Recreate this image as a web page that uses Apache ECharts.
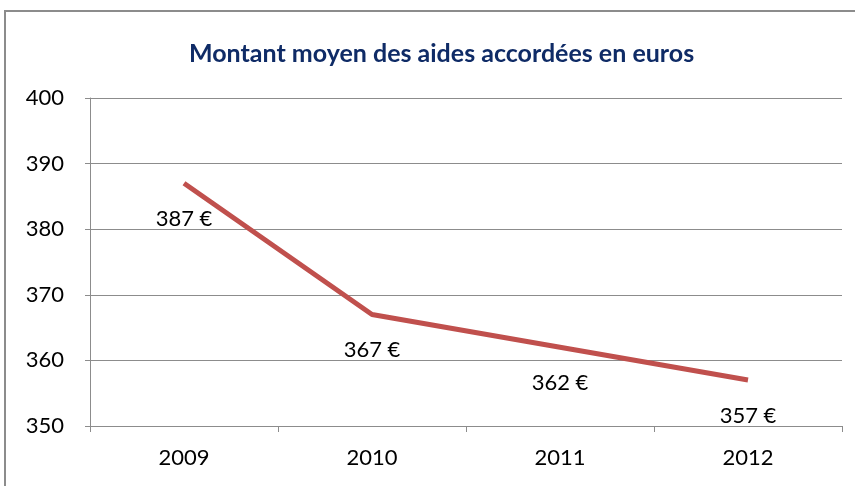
<!DOCTYPE html>
<html>
<head>
<meta charset="utf-8">
<script src="https://cdn.jsdelivr.net/npm/echarts@6/dist/echarts.min.js"></script>
<style>
  html, body { margin: 0; padding: 0; background: #fff; }
  #aidesChart { width: 855px; height: 486px; }
</style>
</head>
<body>
<div id="aidesChart"></div>
<script>
  // montant moyen par année
  var anneeList = ["2009", "2010", "2011", "2012"];
  var montantList = [387, 367, 362, 357];

  var aidesChart = echarts.init(document.getElementById("aidesChart"));
  aidesChart.setOption({
    animation: false,
    title: {
      text: "Montant moyen des aides accordées en euros",
      left: 184,
      top: 36,
      textStyle: {
        color: "#0F2B66",
        fontFamily: "Lato",
        fontWeight: "bold",
        fontSize: 25
      }
    },
    graphic: [{
      type: "rect",
      shape: { x: 5, y: 11, width: 900, height: 520 },
      style: { fill: "none", stroke: "#8c8c8c", lineWidth: 2 },
      silent: true
    }],
    grid: { left: 90, right: 13, top: 98, bottom: 60 },
    xAxis: {
      type: "category",
      data: anneeList,
      boundaryGap: true,
      axisLine: { lineStyle: { color: "#8c8c8c", width: 1 } },
      axisTick: { show: true, length: 6, lineStyle: { color: "#8c8c8c" } },
      axisLabel: {
        color: "#000",
        fontFamily: "Lato",
        fontSize: 22,
        margin: 21
      },
      splitLine: { show: false }
    },
    yAxis: {
      type: "value",
      min: 350,
      max: 400,
      interval: 10,
      axisLine: { show: true, lineStyle: { color: "#8c8c8c", width: 1 } },
      axisTick: { show: true, length: 5, lineStyle: { color: "#8c8c8c" } },
      axisLabel: {
        color: "#000",
        fontFamily: "Lato",
        fontSize: 22,
        margin: 26
      },
      splitLine: { show: true, lineStyle: { color: "#8c8c8c", width: 1 } }
    },
    series: [{
      type: "line",
      data: montantList,
      symbol: "circle",
      symbolSize: 1,
      showSymbol: true,
      itemStyle: { color: "rgba(0,0,0,0)" },
      lineStyle: { color: "#C0504D", width: 5 },
      label: {
        show: true,
        position: "bottom",
        distance: 24,
        color: "#000",
        fontFamily: "Lato",
        fontSize: 22,
        formatter: "{c} €"
      }
    }]
  });
</script>
</body>
</html>
